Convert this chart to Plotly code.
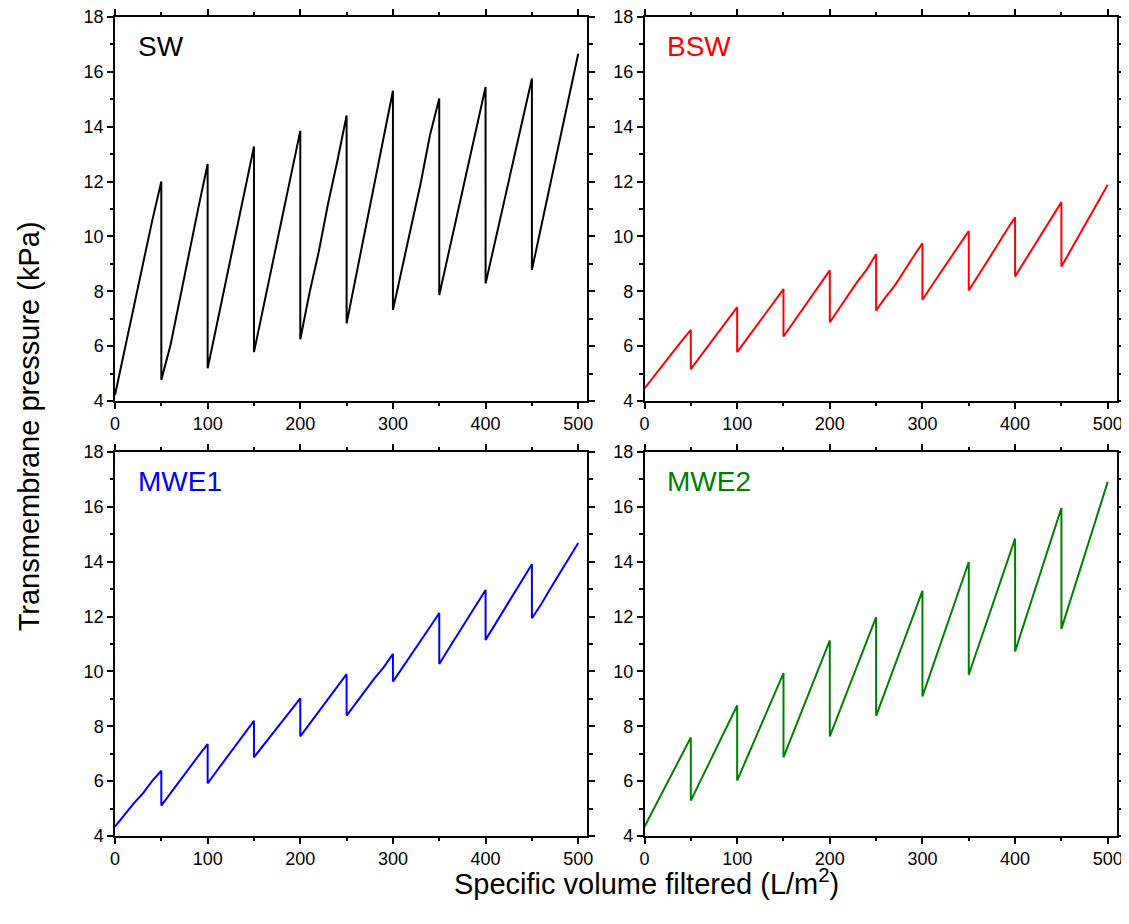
import plotly.graph_objects as go
from plotly.subplots import make_subplots

# Specific volume filtered (L/m2): each backwash cycle sampled every 10 L/m2
volume = [0, 10, 20, 30, 40, 50,
          50, 60, 70, 80, 90, 100,
          100, 110, 120, 130, 140, 150,
          150, 160, 170, 180, 190, 200,
          200, 210, 220, 230, 240, 250,
          250, 260, 270, 280, 290, 300,
          300, 310, 320, 330, 340, 350,
          350, 360, 370, 380, 390, 400,
          400, 410, 420, 430, 440, 450,
          450, 460, 470, 480, 490, 500]

tmp_sw = [4.22, 5.80, 7.40, 8.95, 10.55, 12.00,
          4.77, 6.05, 7.75, 9.35, 11.05, 12.64,
          5.19, 6.80, 8.45, 10.05, 11.70, 13.28,
          5.78, 7.40, 9.05, 10.65, 12.25, 13.85,
          6.25, 7.95, 9.45, 11.20, 12.75, 14.41,
          6.83, 8.55, 10.25, 11.95, 13.60, 15.31,
          7.32, 8.85, 10.40, 11.95, 13.70, 15.03,
          7.86, 9.40, 10.95, 12.45, 13.95, 15.45,
          8.28, 9.80, 11.30, 12.80, 14.30, 15.76,
          8.78, 10.35, 11.90, 13.50, 15.05, 16.66]

tmp_bsw = [4.46, 4.90, 5.35, 5.75, 6.18, 6.59,
           5.16, 5.62, 6.07, 6.52, 6.97, 7.42,
           5.78, 6.24, 6.70, 7.18, 7.60, 8.08,
           6.35, 6.83, 7.32, 7.80, 8.28, 8.76,
           6.87, 7.38, 7.87, 8.36, 8.80, 9.35,
           7.30, 7.78, 8.20, 8.75, 9.25, 9.75,
           7.69, 8.20, 8.70, 9.20, 9.72, 10.20,
           8.03, 8.55, 9.10, 9.63, 10.18, 10.70,
           8.54, 9.08, 9.62, 10.18, 10.72, 11.25,
           8.90, 9.50, 10.08, 10.68, 11.28, 11.88]

tmp_mwe1 = [4.34, 4.78, 5.18, 5.55, 6.00, 6.38,
            5.11, 5.56, 6.02, 6.46, 6.92, 7.35,
            5.92, 6.38, 6.84, 7.30, 7.72, 8.20,
            6.87, 7.30, 7.74, 8.17, 8.58, 9.02,
            7.63, 8.08, 8.55, 9.00, 9.45, 9.90,
            8.39, 8.85, 9.30, 9.75, 10.15, 10.64,
            9.63, 10.12, 10.62, 11.12, 11.62, 12.13,
            10.27, 10.82, 11.37, 11.90, 12.45, 12.97,
            11.15, 11.70, 12.25, 12.80, 13.35, 13.91,
            11.94, 12.45, 13.02, 13.58, 14.12, 14.68]

tmp_mwe2 = [4.34, 4.98, 5.65, 6.30, 6.95, 7.59,
            5.29, 5.98, 6.68, 7.38, 8.08, 8.76,
            6.02, 6.80, 7.58, 8.38, 9.15, 9.94,
            6.87, 7.72, 8.57, 9.42, 10.28, 11.13,
            7.63, 8.50, 9.37, 10.25, 11.12, 11.98,
            8.38, 9.30, 10.21, 11.12, 12.03, 12.94,
            9.09, 10.07, 11.05, 12.03, 13.01, 13.99,
            9.88, 10.87, 11.86, 12.85, 13.84, 14.84,
            10.73, 11.78, 12.83, 13.88, 14.92, 15.96,
            11.55, 12.62, 13.70, 14.77, 15.84, 16.91]

panel_names = ["SW", "BSW", "MWE1", "MWE2"]
panel_colors = ["#000000", "#FF0000", "#0000FF", "#008000"]
panel_data = [tmp_sw, tmp_bsw, tmp_mwe1, tmp_mwe2]

FONT = "Liberation Sans, Arial, sans-serif"

fig = make_subplots(rows=2, cols=2, horizontal_spacing=0.0569, vertical_spacing=0.0623)

for i, (name, color, ys) in enumerate(zip(panel_names, panel_colors, panel_data)):
    r, c = i // 2 + 1, i % 2 + 1
    fig.add_trace(go.Scatter(x=volume, y=ys, mode="lines", name=name,
                             line=dict(color=color, width=2), showlegend=False),
                  row=r, col=c)
    ax = "" if i == 0 else str(i + 1)
    fig.add_annotation(text=name, xref=f"x{ax} domain", yref=f"y{ax} domain",
                       x=0.044, y=0.922, xanchor="left", yanchor="middle",
                       showarrow=False, font=dict(family=FONT, size=28, color=color))

axis_common = dict(showline=True, linecolor="black", linewidth=1.5, mirror="allticks",
                   ticks="outside", ticklen=6, tickwidth=1.5, tickcolor="black",
                   showgrid=False, zeroline=False, automargin=False,
                   ticklabeloverflow="allow",
                   tickfont=dict(family=FONT, size=18, color="black"))

fig.update_xaxes(range=[0, 510], tick0=0, dtick=100,
                 minor=dict(ticks="outside", ticklen=3.5, tickwidth=1.5, tickcolor="black",
                            dtick=50, tick0=0, showgrid=False),
                 **axis_common)
fig.update_yaxes(range=[4, 18], tick0=4, dtick=2,
                 minor=dict(ticks="outside", ticklen=3.5, tickwidth=1.5, tickcolor="black",
                            dtick=1, tick0=4, showgrid=False),
                 **axis_common)

fig.add_annotation(text="Specific volume filtered (L/m<sup>2</sup>)", xref="paper", yref="paper",
                   x=0.53, y=-0.056, xanchor="center", yanchor="middle", showarrow=False,
                   font=dict(family=FONT, size=29, color="black"))
fig.add_annotation(text="Transmembrane pressure (kPa)", xref="paper", yref="paper",
                   x=-0.086, y=0.5, xanchor="center", yanchor="middle", textangle=-90,
                   showarrow=False, font=dict(family=FONT, size=29, color="black"))

# The page body adds an 8px margin, so the figure is drawn 8px smaller on the left/top.
fig.update_layout(width=1121, height=916,
                  margin=dict(l=107, r=12, t=9, b=88),
                  paper_bgcolor="white", plot_bgcolor="white",
                  font=dict(family=FONT, color="black"))

fig.write_html("out.html")
